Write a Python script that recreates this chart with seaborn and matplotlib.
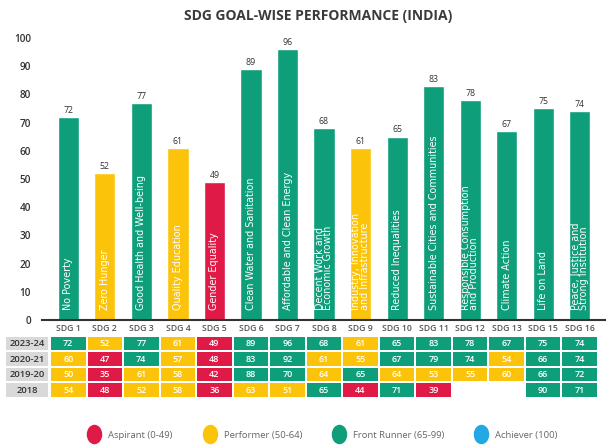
import numpy as np
import pandas as pd
import matplotlib
matplotlib.use("Agg")
import matplotlib.pyplot as plt
from matplotlib.colors import ListedColormap
from matplotlib.lines import Line2D
from matplotlib.path import Path
from matplotlib.transforms import Affine2D
import seaborn as sns

# Données (indice SDG India)
sdg_ticks = ["SDG 1", "SDG 2", "SDG 3", "SDG 4", "SDG 5", "SDG 6", "SDG 7", "SDG 8",
             "SDG 9", "SDG 10", "SDG 11", "SDG 12", "SDG 13", "SDG 15", "SDG 16"]
goal_names = ["No Poverty", "Zero Hunger", "Good Health and Well-being", "Quality Education",
              "Gender Equality", "Clean Water and Sanitation", "Affordable and Clean Energy",
              "Decent Work and\nEconomic Growth", "Industry, Innovation\nand Infrastructure",
              "Reduced Inequalities", "Sustainable Cities and Communities",
              "Responsible Consumption\nand Production", "Climate Action", "Life on Land",
              "Peace, Justice and\nStrong Institution"]
years = ["2023-24", "2020-21", "2019-20", "2018"]
scores_2023 = [72, 52, 77, 61, 49, 89, 96, 68, 61, 65, 83, 78, 67, 75, 74]
scores_2020 = [60, 47, 74, 57, 48, 83, 92, 61, 55, 67, 79, 74, 54, 66, 74]
scores_2019 = [50, 35, 61, 58, 42, 88, 70, 64, 65, 64, 53, 55, 60, 66, 72]
scores_2018 = [54, 48, 52, 58, 36, 63, 51, 65, 44, 71, 39, np.nan, np.nan, 90, 71]

band_names = ["Aspirant (0-49)", "Performer (50-64)", "Front Runner (65-99)", "Achiever (100)"]
band_colors = ["#E01A47", "#FCC30B", "#0E9E7A", "#22A8E4"]


def band(v):
    if np.isnan(v):
        return np.nan
    if v < 50:
        return 0
    if v < 65:
        return 1
    if v < 100:
        return 2
    return 3


sns.set_style("white")
plt.rcParams["font.family"] = ["Open Sans", "DejaVu Sans"]

fig = plt.figure(figsize=(6.13, 4.48), dpi=100)

# Barres
ax = fig.add_axes([42 / 613, 1 - 320 / 448, 563 / 613, 282 / 448])
df = pd.DataFrame({"sdg": sdg_ticks, "score": scores_2023,
                   "band": [band_names[band(v)] for v in scores_2023]})
sns.barplot(data=df, x="sdg", y="score", hue="band", palette=dict(zip(band_names, band_colors)),
            dodge=False, width=0.58, saturation=1, legend=False, ax=ax)
ax.set_xlim(-0.72, 14.69)
ax.set_ylim(0, 100)
ax.set_yticks(range(0, 101, 10))
ax.set_xlabel("")
ax.set_ylabel("")
ax.tick_params(axis="y", length=0, pad=8, labelsize=7.2, labelcolor="#333333")
ax.tick_params(axis="x", length=0, pad=3, labelsize=6.3, labelcolor="#555555")
for lbl in ax.get_yticklabels() + ax.get_xticklabels():
    lbl.set_fontweight("semibold")
sns.despine(ax=ax, left=True)
ax.spines["bottom"].set_color("#333333")
ax.spines["bottom"].set_linewidth(1.5)

for i, (name, v) in enumerate(zip(goal_names, scores_2023)):
    ax.text(i, v + 0.8, str(v), ha="center", va="bottom", fontsize=6.3, color="#333333")
    ax.text(i, 3.5, name, rotation=90, ha="center", va="bottom", color="white",
            fontsize=6.9, family="DejaVu Sans", multialignment="left", linespacing=0.78)

ax.set_title("SDG GOAL-WISE PERFORMANCE (INDIA)", fontsize=10, fontweight="bold",
             color="#3a3a3a", pad=13)
ax.title.set_position((0.49, 1.0))

# Tableau des scores
values = np.array([scores_2023, scores_2020, scores_2019, scores_2018], dtype=float)
codes = np.vectorize(band, otypes=[float])(values)
tax = fig.add_axes([50 / 613, 1 - 398 / 448, 548 / 613, 62 / 448])
sns.heatmap(codes, mask=np.isnan(values), cmap=ListedColormap(band_colors), vmin=-0.5, vmax=3.5,
            annot=values, fmt=".0f", cbar=False, linewidths=1.2, linecolor="white",
            annot_kws={"fontsize": 6.5, "color": "white", "fontweight": "semibold"},
            xticklabels=False, yticklabels=False, ax=tax)

lax = fig.add_axes([5 / 613, 1 - 398 / 448, 44 / 613, 62 / 448])
sns.heatmap(np.zeros((4, 1)), cmap=ListedColormap(["#D9D9D9"]), annot=np.array(years).reshape(4, 1),
            fmt="", cbar=False, linewidths=1.2, linecolor="white",
            annot_kws={"fontsize": 6.8, "color": "#333333", "fontweight": "semibold"},
            xticklabels=False, yticklabels=False, ax=lax)

# Légende
oval = Path.unit_circle().transformed(Affine2D().scale(0.78, 1.0))
handles = [Line2D([], [], marker=oval, linestyle="", markersize=13, color=c) for c in band_colors]
fig.legend(handles, band_names, loc="center", bbox_to_anchor=(0.524, 0.029), ncol=4,
           frameon=False, fontsize=6.8, labelcolor="#666666", handletextpad=0.5,
           columnspacing=2.9)

fig.savefig("out.png", dpi=100)
